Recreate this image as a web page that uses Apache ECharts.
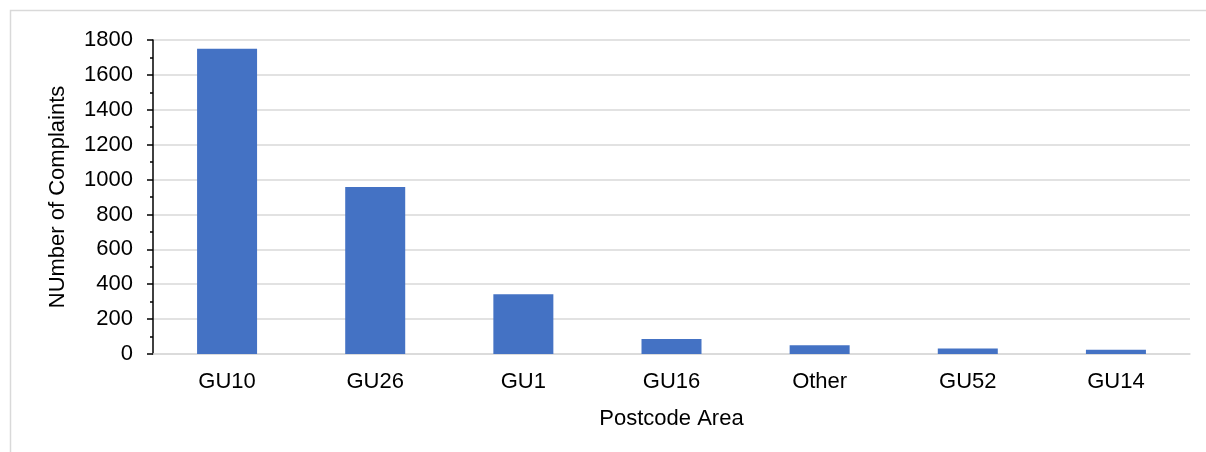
<!DOCTYPE html>
<html>
<head>
<meta charset="utf-8">
<script src="https://cdn.jsdelivr.net/npm/echarts@6/dist/echarts.min.js"></script>
<style>
  html, body { margin: 0; padding: 0; background: #fff; }
  #main { width: 1206px; height: 452px; }
</style>
</head>
<body>
<div id="main"></div>
<script>
const categories = ['GU10', 'GU26', 'GU1', 'GU16', 'Other', 'GU52', 'GU14'];
const complaints = [1750, 957, 342, 86, 50, 31, 24];
const yTicks = [0, 200, 400, 600, 800, 1000, 1200, 1400, 1600, 1800];

const myChart = echarts.init(document.getElementById('main'));
const font = 'Liberation Sans, Arial, sans-serif';

myChart.setOption({
  animation: false,
  graphic: [{
    type: 'rect',
    shape: { x: 10.5, y: 10.5, width: 1220, height: 460 },
    style: { fill: 'none', stroke: '#d9d9d9', lineWidth: 1.5 },
    silent: true
  }],
  grid: { left: 153, right: 16, top: 40, bottom: 98 },
  xAxis: {
    type: 'category',
    data: categories,
    name: 'Postcode Area',
    nameLocation: 'middle',
    nameGap: 54,
    nameTextStyle: { fontFamily: font, fontSize: 22, color: '#000' },
    axisLine: { lineStyle: { color: '#d9d9d9', width: 1.5 } },
    axisTick: { show: false },
    axisLabel: { fontFamily: font, fontSize: 22, color: '#000', margin: 17 }
  },
  yAxis: {
    type: 'value',
    min: yTicks[0],
    max: yTicks[yTicks.length - 1],
    interval: 200,
    name: 'NUmber of Complaints',
    nameLocation: 'middle',
    nameGap: 84,
    nameTextStyle: { fontFamily: font, fontSize: 22, color: '#000' },
    axisLine: { show: true, lineStyle: { color: '#000', width: 1.5 } },
    axisTick: { show: true, length: 6, lineStyle: { color: '#000', width: 1.5 } },
    minorTick: { show: true, splitNumber: 2, length: 3, lineStyle: { color: '#000', width: 1.5 } },
    axisLabel: { fontFamily: font, fontSize: 22, color: '#000', margin: 20, formatter: v => String(v) },
    splitLine: { lineStyle: { color: '#d9d9d9', width: 1.5 } }
  },
  series: [{
    type: 'bar',
    data: complaints,
    barWidth: 60,
    itemStyle: { color: '#4472c4' }
  }]
});
</script>
</body>
</html>
